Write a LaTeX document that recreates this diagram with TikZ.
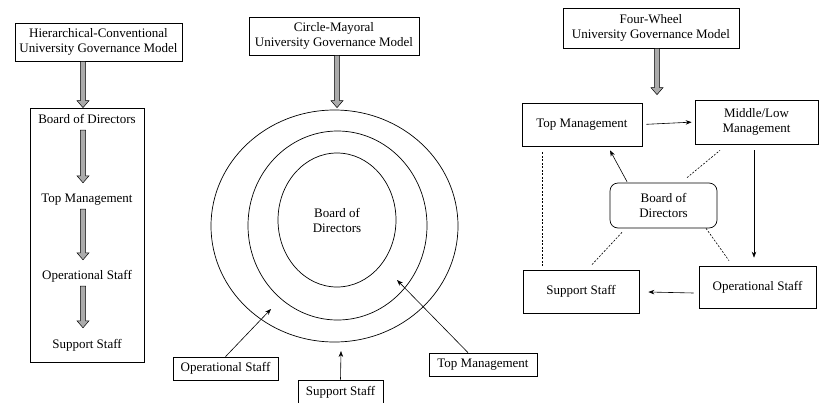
\documentclass[tikz,border=0pt]{standalone}
\usepackage{fontspec}
\setmainfont{Liberation Serif}
\newfontfamily\labelface{Liberation Serif}
\usetikzlibrary{arrows.meta,shapes.geometric,calc}

% thick grey downward arrow from the first point to the second (same x)
\newcommand\blockarrow[2]{%
  \path[blockarrow] let \p1=(#1), \p2=(#2) in
    (\x1-2.7pt,\y1) -- (\x1+2.7pt,\y1) -- (\x1+2.7pt,\y2+7pt) -- (\x1+6pt,\y2+7pt)
    -- (\x1,\y2) -- (\x1-6pt,\y2+7pt) -- (\x1-2.7pt,\y2+7pt) -- cycle;}

\begin{document}
\begin{tikzpicture}[x=1pt,y=-1pt,
  txt/.style={font=\labelface\fontsize{13}{15}\selectfont},
  box/.style={txt,draw,line width=0.7pt,inner sep=0pt,align=center},
  lbl/.style={txt,inner xsep=0pt,inner ysep=3pt,text height=9pt,text depth=3pt},
  ring/.style={draw,ellipse,line width=0.7pt,inner sep=0pt},
  link/.style={line width=0.6pt,-{Stealth[length=6pt,width=4.5pt]}},
  dotline/.style={line width=0.6pt,dash pattern=on 2pt off 1.5pt},
  blockarrow/.style={fill=black!33,draw=black,line width=0.5pt}]
\useasboundingbox (0,0) rectangle (819,402);

% ---------- hierarchical-conventional model ----------
\node[box,minimum width=167pt,minimum height=38pt] (h-title) at (98.5,42)
  {Hierarchical-Conventional\\University Governance Model};
\node[box,minimum width=114pt,minimum height=254pt] (h-frame) at (87,235) {};
\node[lbl] (h-bod) at (87,120) {Board of Directors};
\node[lbl] (h-tm)  at (87,199) {Top Management};
\node[lbl] (h-ops) at (87,276) {Operational Staff};
\node[lbl] (h-sup) at (87,345) {Support Staff};
\coordinate (h-axis) at (83,0);
\blockarrow{h-title.south -| h-axis}{h-frame.north -| h-axis}
\blockarrow{$(h-bod.south -| h-axis)+(0,1)$}{$(h-tm.north -| h-axis)+(0,-7)$}
\blockarrow{$(h-tm.south -| h-axis)+(0,1)$}{$(h-ops.north -| h-axis)+(0,-7)$}
\blockarrow{$(h-ops.south -| h-axis)+(0,1)$}{$(h-sup.north -| h-axis)+(0,-8)$}

% ---------- circle-mayoral model ----------
\node[box,minimum width=170pt,minimum height=38pt] (c-title) at (334,36)
  {Circle-Mayoral\\University Governance Model};
\node[ring,minimum width=247pt,minimum height=232pt] (c-outer) at (334.5,226) {};
\node[ring,minimum width=179pt,minimum height=189pt] (c-middle) at (337.5,225.5) {};
\node[ring,txt,align=center,minimum width=118pt,minimum height=134pt] (c-inner) at (337,220)
  {Board of\\Directors};
\coordinate (c-axis) at (337,0);
\blockarrow{c-title.south -| c-axis}{$(c-outer.north -| c-axis)+(0,-2)$}

\node[box,minimum width=105pt,minimum height=23pt] (c-ops) at (225.5,368.5) {Operational Staff};
\node[box,minimum width=85pt,minimum height=24pt] (c-sup) at (340.5,392) {Support Staff};
\node[box,minimum width=108pt,minimum height=23pt] (c-tm) at (483,364.5) {Top Management};
\coordinate (c-ops-tip) at (271,309);
\coordinate (c-sup-tip) at (341,351);
\coordinate (c-tm-tip) at (397,280);
\draw[link] (c-ops.north) -- (c-ops-tip);
\draw[link] (c-sup.north) -- (c-sup-tip);
\draw[link] ([xshift=-15pt]c-tm.north) -- (c-tm-tip);

% ---------- four-wheel model ----------
\node[box,minimum width=176pt,minimum height=40pt] (w-title) at (651,28)
  {Four-Wheel\\University Governance Model};
\node[box,minimum width=120pt,minimum height=43pt] (w-tm) at (582,124.5) {Top Management};
\node[box,minimum width=123pt,minimum height=44pt] (w-mlm) at (756.5,122) {Middle/Low\\Management};
\node[box,rounded corners=8pt,minimum width=107pt,minimum height=45pt] (w-bod) at (663.5,205.5)
  {Board of\\Directors};
\node[box,minimum width=117pt,minimum height=42pt] (w-ops) at (757.5,287) {Operational Staff};
\node[box,minimum width=116pt,minimum height=43pt] (w-sup) at (581,291.5) {Support Staff};
\coordinate (w-axis) at (657,0);
\blockarrow{w-title.south -| w-axis}{$(w-tm.north -| w-axis)+(0,-8)$}

\draw[link,shorten <=4pt,shorten >=3pt] (w-tm.east) -- (w-mlm.west);
\draw[link] ($(w-bod.north)+(-36.5,-1)$) -- ($(w-tm.south)+(28,4)$);
\draw[link] ($(w-mlm.south)+(-2.5,6)$) -- ($(w-ops.north)+(-3.5,-8)$);
\draw[link] ($(w-ops.west)+(-5,6)$) -- ($(w-sup.east)+(9,0.5)$);

\draw[dotline] ($(w-tm.south)+(-40,6)$) -- ($(w-sup.north)+(-39,-2)$);
\draw[dotline] ($(w-bod.south)+(-41.5,4)$) -- ($(w-sup.north)+(10,-4)$);
\draw[dotline] ($(w-bod.south)+(42.5,0)$) -- ($(w-ops.north)+(-28.5,-5)$);
\draw[dotline] ($(w-bod.north)+(23.5,-5)$) -- ($(w-mlm.south)+(-36.5,6)$);
\end{tikzpicture}
\end{document}
